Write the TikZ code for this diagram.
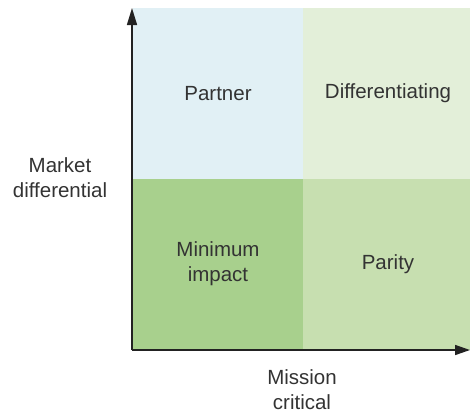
\documentclass[tikz,border=0pt]{standalone}
\usepackage{fontspec}
\setmainfont{Liberation Sans}
\usetikzlibrary{arrows.meta}
\definecolor{tlblue}{HTML}{E1F0F5}
\definecolor{trgreen}{HTML}{E3EFD9}
\definecolor{blgreen}{HTML}{A8D08D}
\definecolor{brgreen}{HTML}{C7DFB0}
\definecolor{txt}{HTML}{333333}
\definecolor{axis}{HTML}{222222}
\begin{document}
\begin{tikzpicture}[x=1pt,y=-1pt,
  lbl/.style={text=txt,font=\fontsize{20.5}{25}\selectfont,align=center,inner sep=0pt},
  axisline/.style={draw=axis,line width=1.5pt}]
\useasboundingbox (0,0) rectangle (470,413);
\fill[tlblue] (133,8) rectangle (303,179);
\fill[trgreen] (303,8) rectangle (470,179);
\fill[blgreen] (133,179) rectangle (303,350);
\fill[brgreen] (303,179) rectangle (470,350);
\coordinate (o) at (132,350);
\coordinate (ytop) at (132,8);
\coordinate (xend) at (470,350);
\draw[axisline,-{Triangle[length=17pt,width=10pt]}] (o) -- (ytop);
\draw[axisline,-{Triangle[length=15pt,width=10pt]}] (o) -- (xend);
\node[lbl] (partner) at (218,93.5) {Partner};
\node[lbl] (diff) at (388,93.5) {Differentiating};
\node[lbl] (minimum) at (218,264) {Minimum\\impact};
\node[lbl] (parity) at (388,264.5) {Parity};
\node[lbl] (market) at (60,178) {Market\\differential};
\node[lbl] (mission) at (302,389.5) {Mission\\critical};
\end{tikzpicture}
\end{document}
